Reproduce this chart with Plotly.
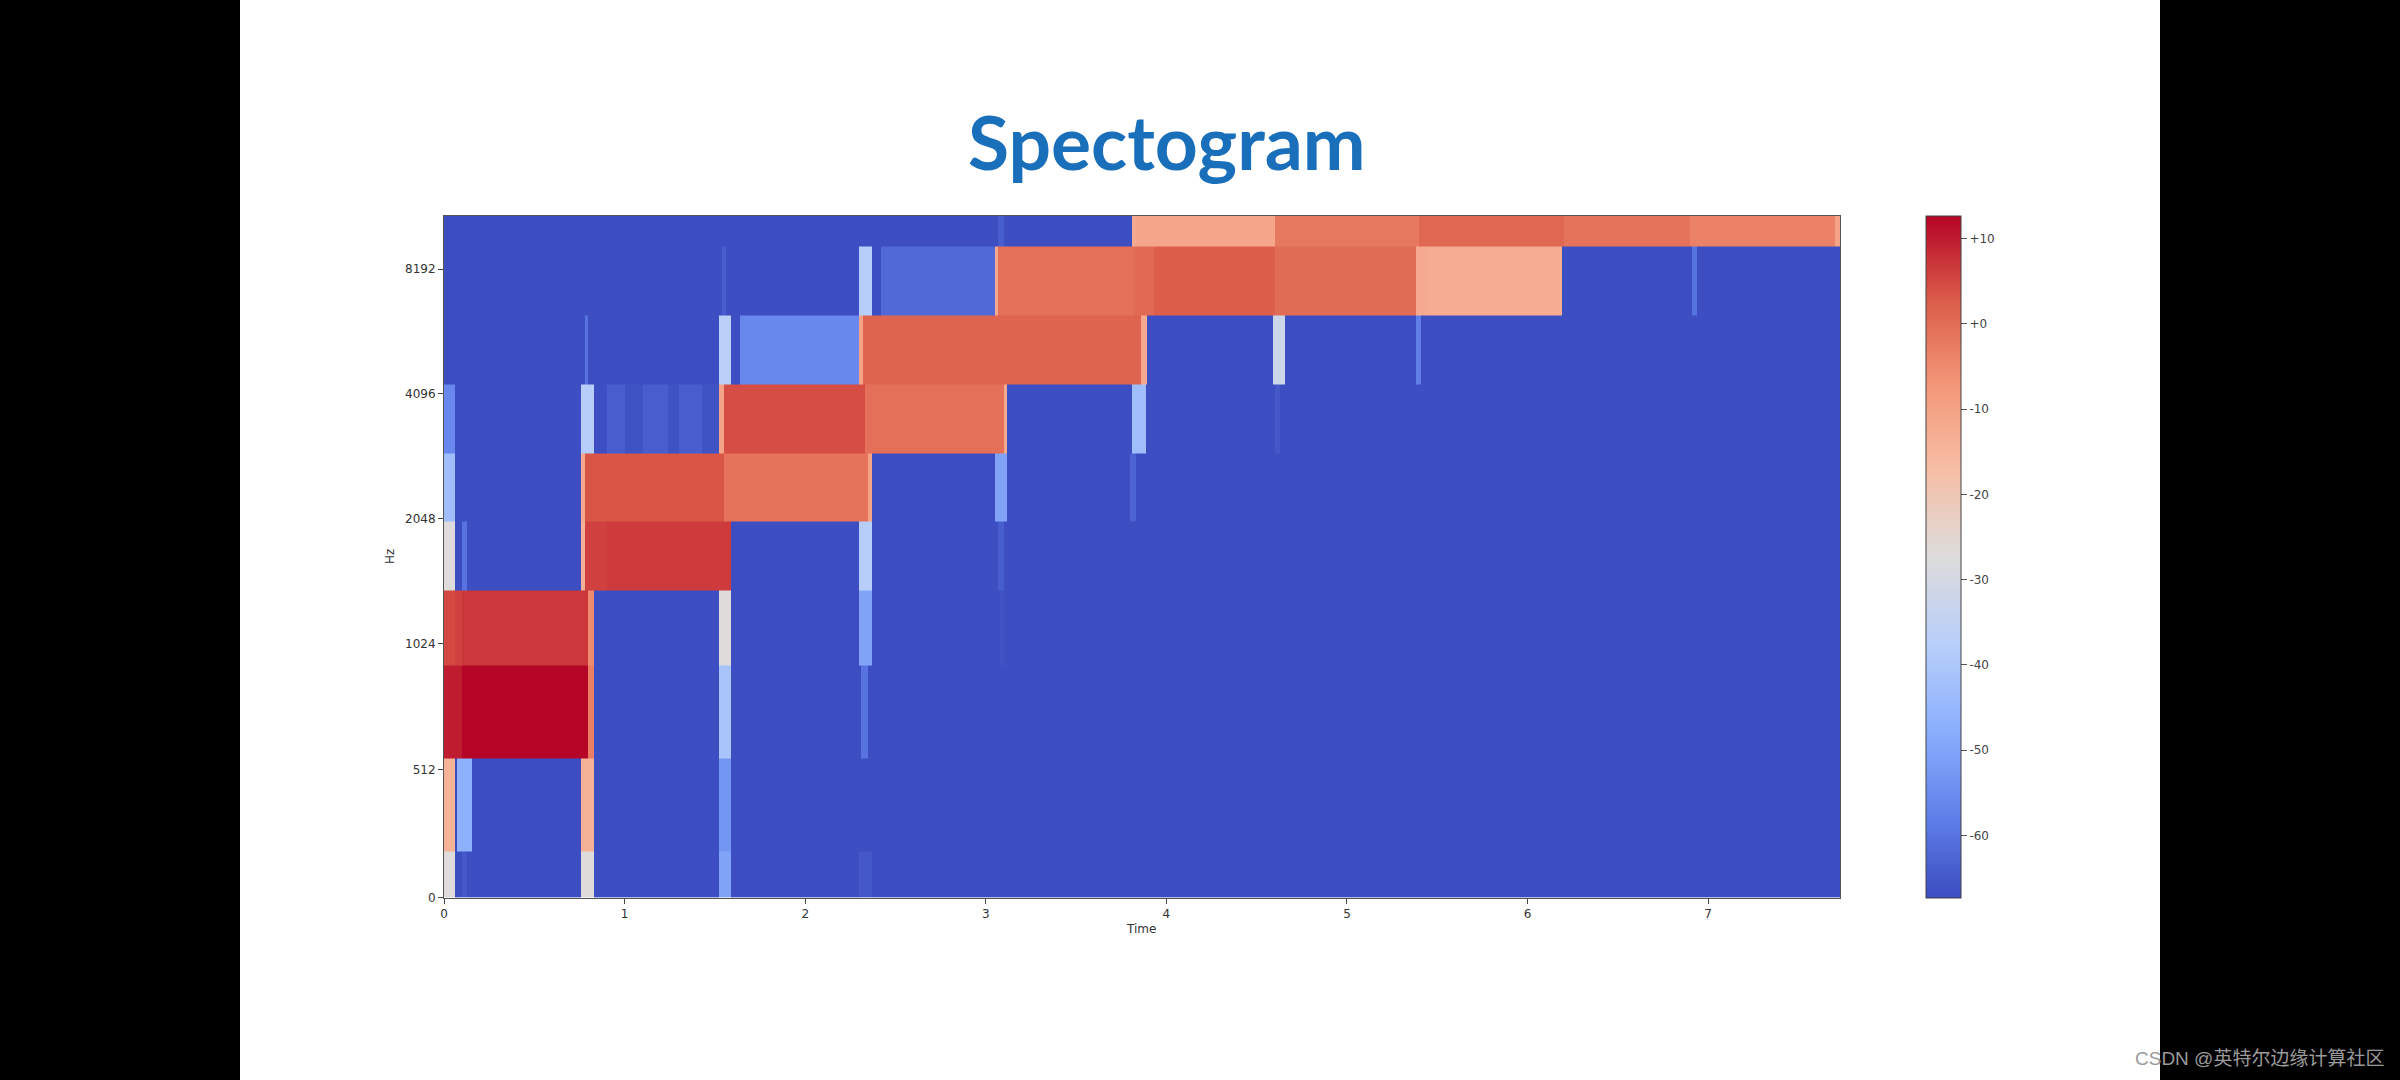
import plotly.graph_objects as go

# Time (s) end of each run and its level (dB), per mel band from bottom to top
t_end = 7.73
bg = -67
band_0 = [(0.062,-27),(0.10,bg),(0.13,-65),(0.757,bg),(0.83,-27),(1.52,bg),(1.59,-50),(2.30,bg),(2.37,-65),(t_end,bg)]
band_1 = [(0.062,-14),(0.07,bg),(0.155,-47),(0.757,bg),(0.83,-14),(1.52,bg),(1.59,-53),(t_end,bg)]
band_2 = [(0.10,10),(0.80,12.5),(0.83,-3),(1.52,bg),(1.59,-41),(2.31,bg),(2.35,-60),(t_end,bg)]
band_3 = [(0.062,5),(0.10,6),(0.80,7),(0.83,-5),(1.52,bg),(1.59,-27),(2.30,bg),(2.37,-50),(3.08,bg),(3.10,-66),(t_end,bg)]
band_4 = [(0.062,-27),(0.10,bg),(0.13,-60),(0.757,bg),(0.78,-14),(0.90,6),(1.59,6.5),(2.30,bg),(2.37,-38),(3.07,bg),(3.10,-64),(t_end,bg)]
band_5 = [(0.062,-43),(0.757,bg),(0.78,-12),(1.55,3.5),(2.35,-1),(2.37,-10),(3.05,bg),(3.12,-50),(3.80,bg),(3.83,-63),(t_end,bg)]
band_6 = [(0.062,-56),(0.757,bg),(0.83,-38),(0.90,bg),(1.00,-64),(1.10,-66),(1.24,-64),(1.30,-66),(1.43,-64),(1.52,-66),(1.55,-10),(2.33,4.5),(3.10,-0.5),(3.12,-12),(3.81,bg),(3.885,-43),(4.60,bg),(4.63,-65),(t_end,bg)]
band_7 = [(0.78,bg),(0.80,-60),(1.52,bg),(1.59,-37),(1.64,bg),(2.30,-56),(2.32,-10),(3.86,1.5),(3.89,-12),(4.593,bg),(4.658,-32),(5.38,bg),(5.41,-58),(t_end,bg)]
band_8 = [(1.54,bg),(1.56,-64),(2.30,bg),(2.37,-38),(2.42,bg),(3.05,-62),(3.07,-12),(3.82,-0.5),(3.93,0.5),(4.60,2.5),(5.38,0),(5.45,-12),(6.19,-12.5),(6.91,bg),(6.94,-60),(t_end,bg)]
band_9 = [(3.07,bg),(3.10,-64),(3.81,bg),(3.83,-12),(4.60,-11),(5.40,-2),(6.20,1),(6.90,-1),(7.70,-3.5),(t_end,-10)]
bands = [band_0,band_1,band_2,band_3,band_4,band_5,band_6,band_7,band_8,band_9]

# Band edges on the displayed (log-like) frequency axis
band_edges = [0,0.368,1.113,1.862,2.46,3.014,3.556,4.11,4.66,5.21,5.46]
y_tick_pos = [0,1.024,2.036,3.033,4.033,5.03]
y_tick_text = ["0","512","1024","2048","4096","8192"]
x_ticks = [0,1,2,3,4,5,6,7]
cbar_ticks = [10,0,-10,-20,-30,-40,-50,-60]
cbar_text = ["+10","+0","-10","-20","-30","-40","-50","-60"]
z_min, z_max = -67.3, 12.7

time_edges = sorted({0.0} | {e for b in bands for e, _ in b})
def level(band, t):
    for e, v in band:
        if t < e:
            return v
    return band[-1][1]
z = [[level(b, (time_edges[i] + time_edges[i + 1]) / 2) for i in range(len(time_edges) - 1)] for b in bands]

coolwarm = [[0,'#3b4cc0'],[.125,'#6282ea'],[.25,'#8db0fe'],[.375,'#b9d0f9'],[.5,'#dddcdc'],
            [.625,'#f6bfa6'],[.75,'#f4987a'],[.875,'#dc5d4a'],[1,'#b40426']]

W, H = 2400, 1080
L, R, T, B = 444, 1840, 215.5, 897.7
TXT = '#333333'
def note(text, x, y, **kw):
    return dict(text=text, xref='paper', yref='paper', x=x/W, y=1-y/H, xanchor='center', yanchor='middle', showarrow=False, **kw)

fig = go.Figure(go.Heatmap(
    x=time_edges, y=band_edges, z=z, zmin=z_min, zmax=z_max, colorscale=coolwarm, zsmooth=False,
    colorbar=dict(x=1925.5/W, xanchor='left', xref='paper', xpad=0, ypad=0, thickness=35, thicknessmode='pixels',
                  y=(H-B)/H, yanchor='bottom', len=(B-T)/H, lenmode='fraction',
                  tickmode='array', tickvals=cbar_ticks, ticktext=cbar_text, ticks='outside', ticklen=6, tickwidth=1,
                  tickcolor='#555555', outlinecolor='#444444', outlinewidth=1,
                  tickfont=dict(family='DejaVu Sans', size=12, color='#444444')),
))
fig.update_layout(
    width=W, height=H, margin=dict(l=0, r=0, t=0, b=0, autoexpand=False), paper_bgcolor='white', plot_bgcolor='white',
    font=dict(family='DejaVu Sans', color=TXT),
    xaxis=dict(domain=[L/W, R/W], range=[0, t_end], tickmode='array', tickvals=x_ticks, ticks='outside', ticklen=5,
               tickcolor='#444444', showgrid=False, zeroline=False, showline=True, linecolor='#555555', mirror=True,
               tickfont=dict(size=12, color=TXT)),
    yaxis=dict(domain=[(H-B)/H, (H-T)/H], range=[0, 5.46], tickmode='array', tickvals=y_tick_pos, ticktext=y_tick_text,
               ticks='outside', ticklen=5, tickcolor='#444444', showgrid=False, zeroline=False, showline=True,
               linecolor='#555555', mirror=True, tickfont=dict(size=12, color=TXT)),
    shapes=[
        dict(type='rect', xref='paper', yref='paper', x0=0, x1=240/W, y0=0, y1=1, fillcolor='black', line_width=0, layer='below'),
        dict(type='rect', xref='paper', yref='paper', x0=2160/W, x1=1, y0=0, y1=1, fillcolor='black', line_width=0, layer='below'),
    ],
    annotations=[
        note('<b>Spectogram</b>', 1167, 141, font=dict(family='Lato', size=75, color='#1a6fbb')),
        note('Hz', 390, 557, textangle=-90, font=dict(size=12, color=TXT)),
        note('Time', 1141, 929, font=dict(size=12, color=TXT)),
        dict(text='CSDN @英特尔边缘计算社区', xref='paper', yref='paper', x=2386/W, y=1-1071/H, xanchor='right', yanchor='bottom',
             showarrow=False, font=dict(family='Liberation Sans, Noto Sans CJK SC', size=19, color='#9a9a9a')),
    ],
)
fig.write_html(
    "out.html",
    config={"displayModeBar": False},
    post_script="document.body.style.margin='0';document.documentElement.style.overflow='hidden';",
)
